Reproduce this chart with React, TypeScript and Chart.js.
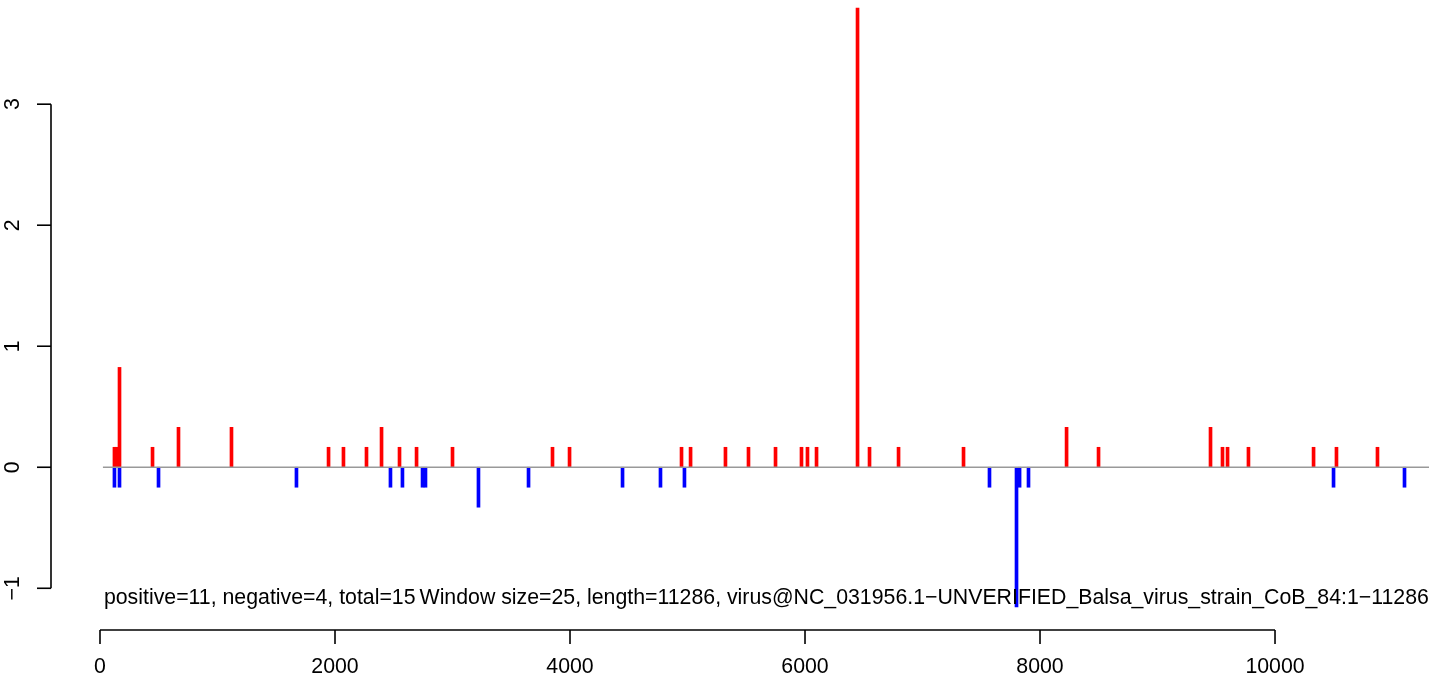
import React, { useEffect, useRef } from "react";
import { Chart, registerables } from "chart.js";

Chart.register(...registerables);

// ---- data ----
const positivePositions = [123, 145, 166, 447, 668, 1119, 1945, 2072, 2268, 2396, 2549, 2694, 3000, 3851, 3996, 4949, 5026, 5323, 5519, 5749, 5970, 6021, 6098, 6447, 6549, 6796, 7349, 8226, 8498, 9451, 9553, 9596, 9774, 10328, 10523, 10872];
const positiveValues = [0.165, 0.165, 0.825, 0.165, 0.33, 0.33, 0.165, 0.165, 0.165, 0.33, 0.165, 0.165, 0.165, 0.165, 0.165, 0.165, 0.165, 0.165, 0.165, 0.165, 0.165, 0.165, 0.165, 3.795, 0.165, 0.165, 0.165, 0.33, 0.165, 0.33, 0.165, 0.165, 0.165, 0.165, 0.165, 0.165];
const negativePositions = [123, 166, 498, 1672, 2472, 2574, 2745, 2770, 3221, 3647, 4447, 4770, 4974, 7570, 7800, 7826, 7902, 10498, 11102];
const negativeValues = [-0.165, -0.165, -0.165, -0.165, -0.165, -0.165, -0.165, -0.165, -0.33, -0.165, -0.165, -0.165, -0.165, -0.165, -1.155, -0.165, -0.165, -0.165, -0.165];
const zeroLineX = [25, 11311];
const xTicks = [0, 2000, 4000, 6000, 8000, 10000];
const yTicks = [-1, 0, 1, 2, 3];
const summaryText = "positive=11, negative=4, total=15";
const infoText = "Window size=25, length=11286, virus@NC_031956.1\u2212UNVERIFIED_Balsa_virus_strain_CoB_84:1\u221211286";

const FONT = '21.3px "Liberation Sans", Arial, sans-serif';

const rAxesPlugin = {
  id: "rAxes",
  afterDraw(chart: any) {
    const ctx = chart.ctx;
    const xs = chart.scales.x;
    const ys = chart.scales.y;
    const area = chart.chartArea;
    ctx.save();
    ctx.strokeStyle = "#000";
    ctx.fillStyle = "#000";
    ctx.lineWidth = 1.6;
    ctx.font = FONT;

    // x axis
    const yb = area.bottom - 1;
    ctx.beginPath();
    ctx.moveTo(xs.getPixelForValue(xTicks[0]), yb);
    ctx.lineTo(xs.getPixelForValue(xTicks[xTicks.length - 1]), yb);
    ctx.stroke();
    ctx.textAlign = "center";
    ctx.textBaseline = "middle";
    for (const t of xTicks) {
      const px = xs.getPixelForValue(t);
      ctx.beginPath();
      ctx.moveTo(px, yb);
      ctx.lineTo(px, yb + 14);
      ctx.stroke();
      ctx.fillText(String(t), px, yb + 37);
    }

    // y axis
    const xl = area.left;
    ctx.beginPath();
    ctx.moveTo(xl, ys.getPixelForValue(yTicks[0]));
    ctx.lineTo(xl, ys.getPixelForValue(yTicks[yTicks.length - 1]));
    ctx.stroke();
    for (const t of yTicks) {
      const py = ys.getPixelForValue(t);
      ctx.beginPath();
      ctx.moveTo(xl, py);
      ctx.lineTo(xl - 14, py);
      ctx.stroke();
      ctx.save();
      ctx.translate(xl - 38, py);
      ctx.rotate(-Math.PI / 2);
      ctx.textAlign = "center";
      ctx.textBaseline = "middle";
      ctx.fillText(t < 0 ? "\u2212" + Math.abs(t) : String(t), 0, 0);
      ctx.restore();
    }

    // annotation texts
    ctx.textAlign = "left";
    ctx.textBaseline = "alphabetic";
    const tx = xs.getPixelForValue(zeroLineX[0]) + 1;
    const ty = area.bottom - 27;
    ctx.fillText(summaryText, tx, ty);
    const w = ctx.measureText(summaryText).width;
    ctx.fillText(infoText, tx + w + 4, ty);
    ctx.restore();
  },
};

export default function App() {
  const ref = useRef<HTMLCanvasElement | null>(null);

  useEffect(() => {
    document.body.style.margin = "0";
    const canvas = ref.current!;
    const chart = new Chart(canvas, {
      type: "bar",
      data: {
        datasets: [
          {
            type: "line",
            data: zeroLineX.map((x) => ({ x, y: 0 })),
            borderColor: "#999999",
            borderWidth: 1.6,
            pointRadius: 0,
            order: 0,
          } as any,
          {
            data: positivePositions.map((x, i) => ({ x, y: positiveValues[i] })),
            backgroundColor: "#ff0000",
            barThickness: 3,
            order: 1,
          },
          {
            data: negativePositions.map((x, i) => ({ x, y: negativeValues[i] })),
            backgroundColor: "#0000ff",
            barThickness: 3,
            order: 1,
          },
        ],
      },
      options: {
        animation: false,
        responsive: false,
        maintainAspectRatio: false,
        devicePixelRatio: 1,
        layout: { padding: { left: 51, right: 21, top: 14, bottom: 45 } },
        datasets: { bar: { grouped: false } } as any,
        plugins: { legend: { display: false }, tooltip: { enabled: false } },
        scales: {
          x: { type: "linear", min: -417, max: 11736, offset: false, display: false, grid: { offset: false } },
          y: { type: "linear", min: -1.353, max: 3.993, display: false },
        },
      },
      plugins: [rAxesPlugin],
    });
    return () => chart.destroy();
  }, []);

  return (
    <div style={{ position: "fixed", left: 0, top: 0, width: 1429, height: 676, overflow: "hidden", background: "#fff" }}>
      <canvas ref={ref} width={1500} height={706} style={{ position: "absolute", left: 0, top: -30, width: 1500, height: 706 }} />
    </div>
  );
}
